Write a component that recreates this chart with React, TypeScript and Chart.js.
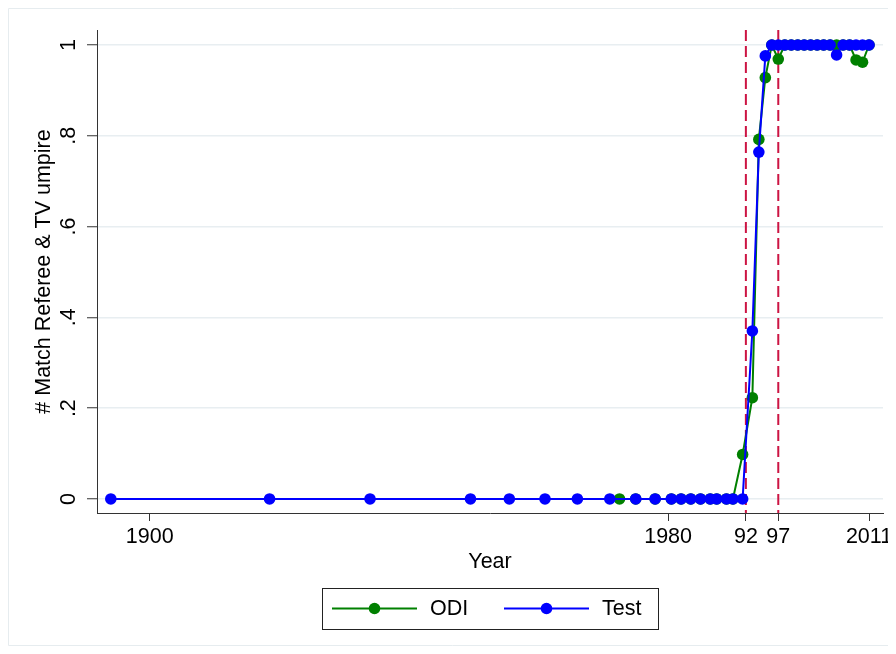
import { useEffect, useRef } from "react";
import { Chart, registerables } from "chart.js";

Chart.register(...registerables);

// ---- Data ----
const odiYears = [
  1972.5, 1975, 1978, 1980.5, 1982, 1983.5, 1985, 1986.5, 1987.5, 1989, 1990,
  1991.5, 1993, 1994, 1995, 1996, 1997, 1998, 1999, 2000, 2001, 2002, 2003,
  2004, 2005, 2006, 2007, 2008, 2009, 2010, 2011,
];
const odiValues = [
  0, 0, 0, 0, 0, 0, 0, 0, 0, 0, 0,
  0.098, 0.223, 0.792, 0.928, 1, 0.969, 1, 1, 1, 1, 1, 1,
  1, 1, 1, 1, 1, 0.967, 0.962, 1,
];

const testYears = [
  1894, 1918.5, 1934, 1949.5, 1955.5, 1961, 1966, 1971, 1975, 1978, 1980.5,
  1982, 1983.5, 1985, 1986.5, 1987.5, 1989, 1990, 1991.5, 1993, 1994, 1995,
  1996, 1997, 1998, 1999, 2000, 2001, 2002, 2003, 2004, 2005, 2006, 2007,
  2008, 2009, 2010, 2011,
];
const testValues = [
  0, 0, 0, 0, 0, 0, 0, 0, 0, 0, 0,
  0, 0, 0, 0, 0, 0, 0, 0, 0.37, 0.764, 0.976,
  1, 1, 1, 1, 1, 1, 1, 1, 1, 1, 0.978, 1,
  1, 1, 1, 1,
];

const xTickValues = [1900, 1980, 1992, 1997, 2011];
const xTickLabels = ["1900", "1980", "92", "97", "2011"];
const yTickValues = [0, 0.2, 0.4, 0.6, 0.8, 1];
const yTickLabels = ["0", ".2", ".4", ".6", ".8", "1"];
const referenceYears = [1992, 1997];

const seriesNames = ["ODI", "Test"];
const seriesColors = ["#008000", "#0000ff"];

const FONT = "'Liberation Sans', Arial, sans-serif";
const FSIZE = 21.5;
const FRAME_H = 638;

const framePlugin = {
  id: "frame",
  beforeDraw(chart: any) {
    const { ctx, width, height } = chart;
    ctx.save();
    ctx.fillStyle = "#ffffff";
    ctx.fillRect(0, 0, width, height);
    ctx.strokeStyle = "#e6ecef";
    ctx.lineWidth = 1;
    ctx.beginPath();
    ctx.moveTo(width, 0.5);
    ctx.lineTo(0.5, 0.5);
    ctx.lineTo(0.5, FRAME_H - 0.5);
    ctx.lineTo(width, FRAME_H - 0.5);
    ctx.stroke();
    ctx.restore();
  },
};

const vlinePlugin = {
  id: "vlines",
  beforeDatasetsDraw(chart: any) {
    const { ctx, chartArea, scales } = chart;
    ctx.save();
    ctx.strokeStyle = "#cc1443";
    ctx.lineWidth = 2;
    ctx.setLineDash([11, 5]);
    referenceYears.forEach((yr) => {
      const x = scales.x.getPixelForValue(yr);
      ctx.beginPath();
      ctx.moveTo(x, chartArea.top);
      ctx.lineTo(x, chartArea.bottom);
      ctx.stroke();
    });
    ctx.restore();
  },
};

const legendPlugin = {
  id: "boxLegend",
  afterDraw(chart: any) {
    const { ctx, chartArea } = chart;
    const cx = (chartArea.left + chartArea.right) / 2;
    const w = 336;
    const h = 41;
    const top = 580;
    const left = Math.round(cx - w / 2);
    const cy = top + h / 2;
    ctx.save();
    ctx.strokeStyle = "#222222";
    ctx.lineWidth = 1;
    ctx.strokeRect(left + 0.5, top + 0.5, w, h);
    const offs = [
      { line: 10, text: 108 },
      { line: 182, text: 280 },
    ];
    chart.data.datasets.forEach((ds: any, i: number) => {
      const o = offs[i];
      const color = ds.borderColor;
      ctx.strokeStyle = color;
      ctx.lineWidth = 2;
      ctx.beginPath();
      ctx.moveTo(left + o.line, cy);
      ctx.lineTo(left + o.line + 85, cy);
      ctx.stroke();
      ctx.fillStyle = color;
      ctx.beginPath();
      ctx.arc(left + o.line + 42.5, cy, 5.8, 0, Math.PI * 2);
      ctx.fill();
      ctx.fillStyle = "#000000";
      ctx.font = `${FSIZE}px ${FONT}`;
      ctx.textBaseline = "middle";
      ctx.textAlign = "left";
      ctx.fillText(ds.label, left + o.text, cy + 1);
    });
    ctx.restore();
  },
};

export default function App() {
  const ref = useRef<HTMLCanvasElement | null>(null);

  useEffect(() => {
    if (!ref.current) return;
    Chart.defaults.font.family = FONT;
    Chart.defaults.color = "#000000";
    const chart = new Chart(ref.current, {
      type: "scatter",
      data: {
        datasets: [
          {
            label: seriesNames[0],
            data: odiYears.map((x, i) => ({ x, y: odiValues[i] })),
            borderColor: seriesColors[0],
            backgroundColor: seriesColors[0],
            showLine: true,
            borderWidth: 2,
            pointRadius: 5.8,
            pointBorderWidth: 0,
            pointHoverRadius: 5.8,
            tension: 0,
            order: 2,
          },
          {
            label: seriesNames[1],
            data: testYears.map((x, i) => ({ x, y: testValues[i] })),
            borderColor: seriesColors[1],
            backgroundColor: seriesColors[1],
            showLine: true,
            borderWidth: 2,
            pointRadius: 5.8,
            pointBorderWidth: 0,
            pointHoverRadius: 5.8,
            tension: 0,
            order: 1,
          },
        ],
      },
      options: {
        animation: false,
        responsive: false,
        events: [],
        layout: { padding: { top: 22, right: 13, left: 0, bottom: 0 } },
        plugins: {
          legend: { display: false },
          tooltip: { enabled: false },
        },
        scales: {
          x: {
            type: "linear",
            min: 1891.87,
            max: 2013.16,
            afterFit: (s: any) => {
              s.height = 133;
              s.paddingLeft = 0;
              s.paddingRight = 0;
            },
            afterBuildTicks: (s: any) => {
              s.ticks = xTickValues.map((v) => ({ value: v }));
            },
            ticks: {
              autoSkip: false,
              maxRotation: 0,
              minRotation: 0,
              padding: 3,
              color: "#000000",
              font: { size: FSIZE, family: FONT },
              callback: (v: any) => {
                const i = xTickValues.indexOf(Number(v));
                return i >= 0 ? xTickLabels[i] : "";
              },
            },
            grid: {
              display: true,
              drawOnChartArea: false,
              drawTicks: true,
              tickLength: 8,
              tickColor: "#333333",
              tickWidth: 1,
            },
            border: { display: true, color: "#333333", width: 1 },
            title: {
              display: true,
              text: "Year",
              color: "#000000",
              font: { size: FSIZE, family: FONT },
              padding: { top: 0, bottom: 71 },
            },
          },
          y: {
            type: "linear",
            min: -0.031,
            max: 1.033,
            afterFit: (s: any) => {
              s.width = 89;
              s.paddingTop = 0;
              s.paddingBottom = 0;
            },
            afterBuildTicks: (s: any) => {
              s.ticks = yTickValues.map((v) => ({ value: v }));
            },
            ticks: {
              autoSkip: false,
              minRotation: 90,
              maxRotation: 90,
              crossAlign: "center",
              padding: 9,
              color: "#000000",
              font: { size: FSIZE, family: FONT },
              callback: (v: any) => {
                const i = yTickValues.findIndex((t) => Math.abs(t - Number(v)) < 1e-9);
                return i >= 0 ? yTickLabels[i] : "";
              },
            },
            grid: {
              display: true,
              drawOnChartArea: true,
              drawTicks: true,
              tickLength: 10,
              color: "#e8eef1",
              lineWidth: 1.5,
              tickColor: "#333333",
              tickWidth: 1,
            },
            border: { display: true, color: "#333333", width: 1 },
            title: {
              display: true,
              text: "# Match Referee & TV umpire",
              color: "#000000",
              font: { size: FSIZE, family: FONT },
              padding: { top: 23, bottom: 0 },
            },
          },
        },
      },
      plugins: [framePlugin, vlinePlugin, legendPlugin],
    } as any);
    return () => chart.destroy();
  }, []);

  return (
    <div style={{ width: 880, height: 638 }}>
      <canvas ref={ref} width={888} height={638} style={{ display: "block" }} />
    </div>
  );
}
